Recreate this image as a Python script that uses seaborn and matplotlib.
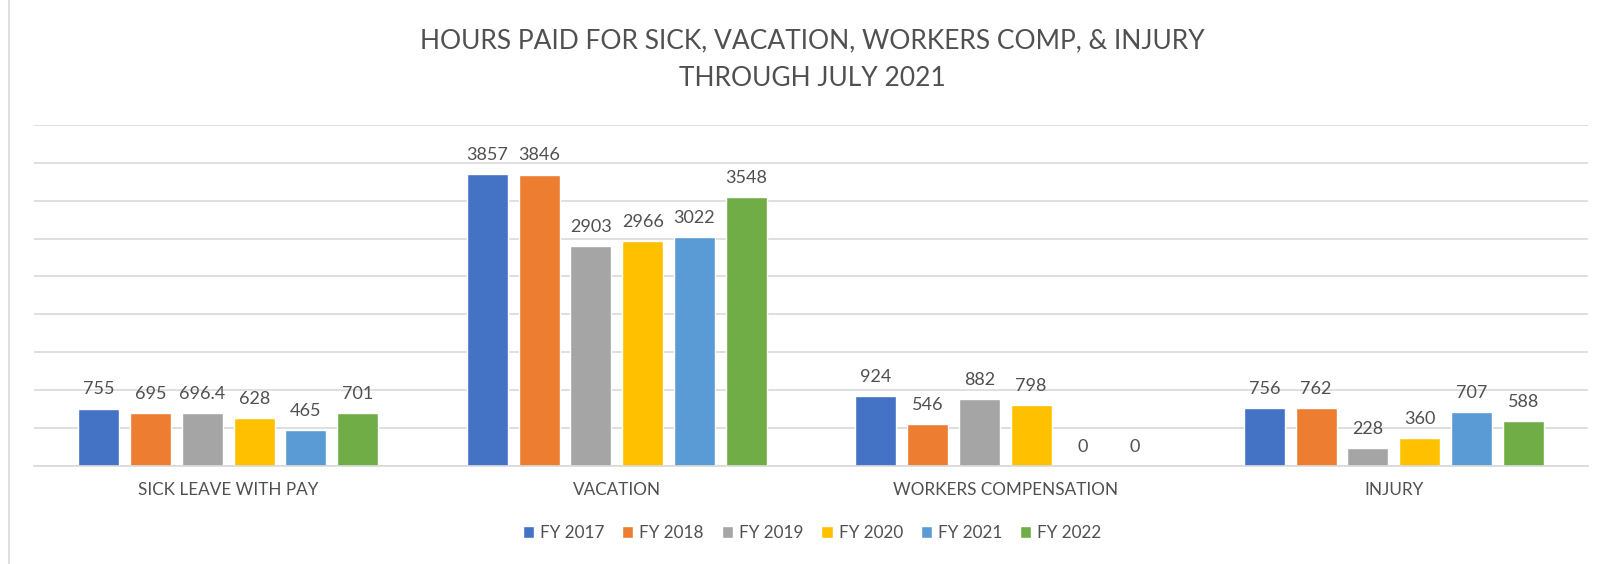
"""
Hours paid for sick, vacation, workers comp & injury - grouped bar chart
"""

import pandas as pd
import numpy as np
import matplotlib.pyplot as plt
from matplotlib.patches import Patch
import seaborn as sns

categories = ['SICK LEAVE WITH PAY', 'VACATION', 'WORKERS COMPENSATION', 'INJURY']
years = ['FY 2017', 'FY 2018', 'FY 2019', 'FY 2020', 'FY 2021', 'FY 2022']
fy2017 = [755, 3857, 924, 756]
fy2018 = [695, 3846, 546, 762]
fy2019 = [696.4, 2903, 882, 228]
fy2020 = [628, 2966, 798, 360]
fy2021 = [465, 3022, 0, 707]
fy2022 = [701, 3548, 0, 588]
colors = ['#4472C4', '#ED7D31', '#A5A5A5', '#FFC000', '#5B9BD5', '#70AD47']

sns.set_theme(style='white')
plt.rcParams['font.family'] = ['Lato', 'DejaVu Sans']
TXT = '#505050'

series = [fy2017, fy2018, fy2019, fy2020, fy2021, fy2022]
rows = []
for yr, vals in zip(years, series):
    for cat, v in zip(categories, vals):
        rows.append({'category': cat, 'year': yr, 'hours': v})
df = pd.DataFrame(rows)

fig = plt.figure(figsize=(16.02, 5.64), dpi=100)
ax = fig.add_axes([34 / 1602, 1 - 465.7 / 564, (1588 - 34) / 1602, (465.7 - 125) / 564])

sns.barplot(data=df, x='category', y='hours', hue='year', order=categories,
            hue_order=years, palette=colors, width=0.8, gap=0.21,
            saturation=1, errorbar=None, legend=False, ax=ax)

ax.set_ylim(0, 4500)
ax.set_yticks(np.arange(0, 4501, 500))
ax.yaxis.grid(True, color='#D9D9D9', linewidth=1.2)
ax.set_axisbelow(True)
ax.set_yticklabels([])
ax.tick_params(axis='both', length=0)
ax.tick_params(axis='x', labelsize=12.3, labelcolor=TXT, pad=12)
ax.set_xlabel('')
ax.set_ylabel('')
for s in ['top', 'right', 'left']:
    ax.spines[s].set_visible(False)
ax.spines['bottom'].set_color('#D9D9D9')
ax.spines['bottom'].set_linewidth(1.2)

for cont, vals in zip(ax.containers, series):
    ax.bar_label(cont, labels=[f'{v:g}' for v in vals], padding=8,
                 fontsize=13, color=TXT)

fig.text(0.507, 1 - 41 / 564, 'HOURS PAID FOR SICK, VACATION, WORKERS COMP, & INJURY',
         ha='center', va='center', fontsize=19, color=TXT)
fig.text(0.507, 1 - 79 / 564, 'THROUGH JULY 2021',
         ha='center', va='center', fontsize=19, color=TXT)

handles = [Patch(facecolor=c, label=y) for c, y in zip(colors, years)]
fig.legend(handles=handles, loc='center', bbox_to_anchor=(0.507, 1 - 533 / 564),
           ncol=6, frameon=False, fontsize=12.3, labelcolor=TXT,
           handlelength=0.65, handleheight=0.65, handletextpad=0.35, columnspacing=1.05)

# chart frame on the left
fig.add_artist(plt.Line2D([9 / 1602, 9 / 1602], [0, 1], color='#D9D9D9', linewidth=1.2))

fig.savefig('out.png', dpi=100)
